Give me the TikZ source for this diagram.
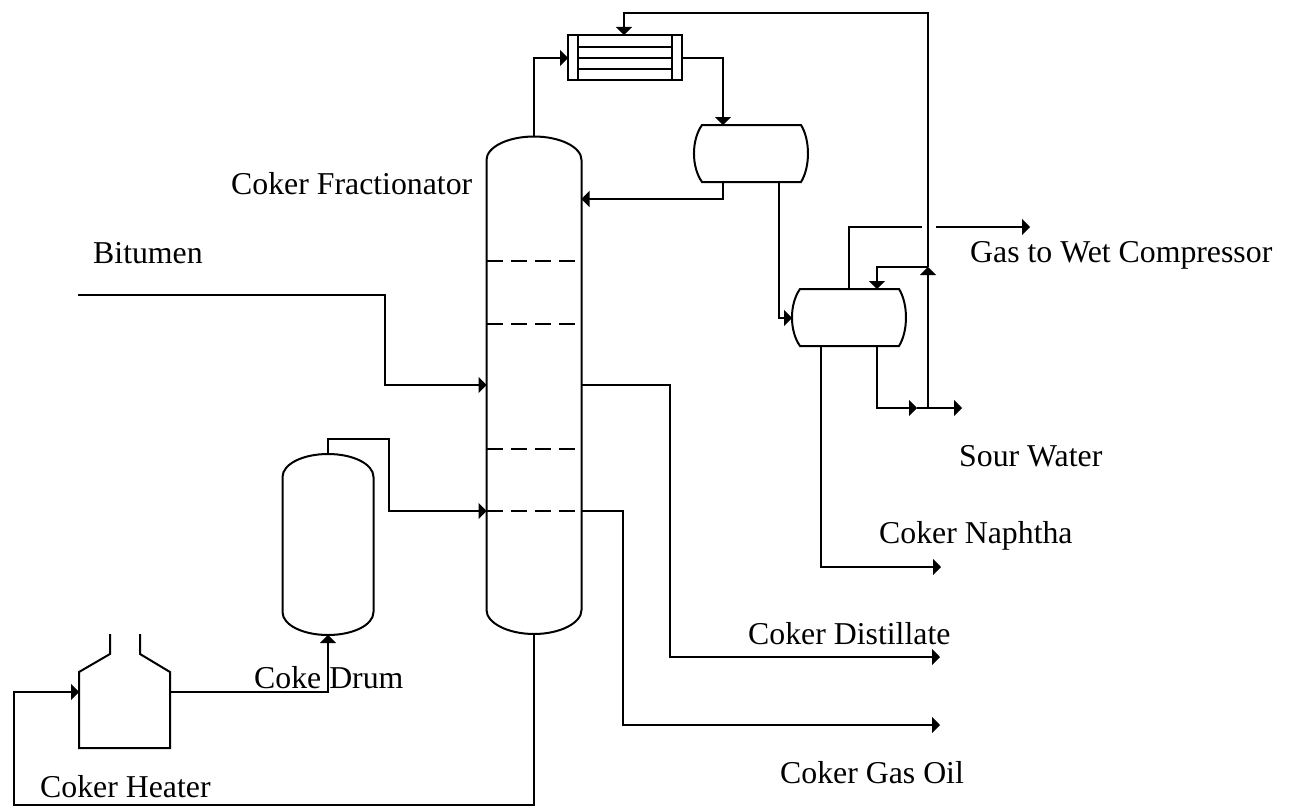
\documentclass[tikz,border=0pt]{standalone}
\usepackage{fontspec}
\setmainfont{Liberation Serif}
\usetikzlibrary{arrows.meta}
\tikzset{
  every picture/.style={x=1pt,y=-1pt},
  eq/.style={line width=2pt,line join=miter,draw=black},
  pipe/.style={line width=2pt,draw=black},
  flow/.style={pipe,-{Triangle[length=8pt,width=16pt]}},
  tray/.style={line width=2pt,dash pattern=on 16pt off 8pt},
  lbl/.style={anchor=base west,inner sep=0pt,font=\fontsize{31.8}{38}\selectfont},
  anchorbox/.style={inner sep=0pt,outer sep=0pt,draw=none}
}
\begin{document}
\begin{tikzpicture}
\useasboundingbox (0,0) rectangle (1293,808);
% equipment anchors (invisible boxes, outlines drawn below)
\node[anchorbox,minimum width=95pt,minimum height=498pt] (col) at (534,385) {};
\node[anchorbox,minimum width=114pt,minimum height=45pt] (cond) at (625,57.5) {};
\node[anchorbox,minimum width=114pt,minimum height=57pt] (drumA) at (751,153.5) {};
\node[anchorbox,minimum width=114pt,minimum height=57pt] (drumB) at (849,317.5) {};
\node[anchorbox,minimum width=91pt,minimum height=181pt] (coke) at (328,544.5) {};
\node[anchorbox,minimum width=91pt,minimum height=114pt] (heat) at (124.5,691) {};
% column
\draw[eq] (486.5,160) .. controls (486.5,147) and (508,136.5) .. (534,136.5)
  .. controls (560,136.5) and (581.5,147) .. (581.5,160) -- (581.5,610)
  .. controls (581.5,623) and (560,634) .. (534,634)
  .. controls (508,634) and (486.5,623) .. (486.5,610) -- cycle;
\foreach \yy in {261,324,449,511} \draw[tray] (487,\yy) -- (575,\yy);
% condenser
\draw[eq] (568,35) rectangle (682,80);
\draw[eq] (578,35) -- (578,80) (672,35) -- (672,80);
\draw[eq] (578,47) -- (672,47) (578,58) -- (672,58) (578,69) -- (672,69);
% drums
\draw[eq] (702,125) -- (801,125) .. controls (810.3,140) and (810.3,167) .. (801,182)
  -- (702,182) .. controls (691.3,167) and (691.3,140) .. (702,125) -- cycle;
\draw[eq] (800,289) -- (899,289) .. controls (908.3,304) and (908.3,331) .. (899,346)
  -- (800,346) .. controls (789.3,331) and (789.3,304) .. (800,289) -- cycle;
% coke drum
\draw[eq] (282.5,477) .. controls (282.5,464) and (303,454) .. (328,454)
  .. controls (353,454) and (373.5,464) .. (373.5,477) -- (373.5,612)
  .. controls (373.5,625) and (353,635) .. (328,635)
  .. controls (303,635) and (282.5,625) .. (282.5,612) -- cycle;
% heater
\draw[eq] (110,634) -- (110,654) -- (79,672) -- (79,748) -- (170,748) -- (170,672) -- (140,654) -- (140,634);
% ports
\coordinate (bitIn) at (78,295);
\coordinate (colBit) at (col.west |- 0,385);
\coordinate (colCoke) at (col.west |- 0,511);
\coordinate (colDrumA) at (col.east |- 0,199);
\coordinate (colDist) at (col.east |- 0,385);
\coordinate (colGO) at (col.east |- 0,511);
\coordinate (heatIn) at (79,692);
\coordinate (heatOut) at (170,692);
\coordinate (condIn) at (568,58);
\coordinate (condOut) at (682,58);
\coordinate (condTop) at (624,35);
\coordinate (drumAin) at (723,125);
\coordinate (drumAout) at (723,182);
\coordinate (drumAliq) at (779,182);
\coordinate (drumBin) at (792,318);
\coordinate (drumBgas) at (849,289);
\coordinate (drumBrefl) at (877,289);
\coordinate (drumBwat) at (877,346);
\coordinate (drumBnap) at (821,346);
\coordinate (teeA) at (917,408);
\coordinate (teeB) at (928,408);
\coordinate (teeC) at (928,267);
\coordinate (gapL) at (922,227);
\coordinate (gapR) at (936,227);
\coordinate (gasOut) at (1030,227);
\coordinate (watOut) at (962,408);
\coordinate (napOut) at (941,567);
\coordinate (distOut) at (940,657);
\coordinate (goOut) at (940,725);
% connectors
\draw[flow] (bitIn) -| (385,385) -- (colBit);
\draw[flow] (col.north) |- (condIn);
\draw[flow] (condOut) -| (drumAin);
\draw[flow] (drumAout) |- (colDrumA);
\draw[flow] (drumAliq) |- (drumBin);
\draw[pipe] (drumBgas) |- (gapL);
\draw[flow] (gapR) -- (gasOut);
\draw[flow] (drumBwat) |- (teeA);
\draw[flow] (teeA) -- (watOut);
\draw[flow] (teeB) -- (teeC);
\draw[flow] (teeC) -| (drumBrefl);
\draw[flow] (teeC) -- (928,13) -| (condTop);
\draw[flow] (drumBnap) |- (napOut);
\draw[flow] (colDist) -| (670,657) -- (distOut);
\draw[flow] (colGO) -| (623,725) -- (goOut);
\draw[flow] (coke.north) |- (389,439) -- (389,511) -- (colCoke);
\draw[flow] (heatOut) -| (coke.south);
\draw[flow] (col.south) |- (14,805) |- (heatIn);
% labels
\node[lbl] (tBit) at (93,263) {Bitumen};
\node[lbl] (tFrac) at (231,194) {Coker Fractionator};
\node[lbl] (tGas) at (970,262) {Gas to Wet Compressor};
\node[lbl] (tSour) at (959,466) {Sour Water};
\node[lbl] (tNap) at (879,543) {Coker Naphtha};
\node[lbl] (tDist) at (748,644) {Coker Distillate};
\node[lbl] (tGO) at (780,783) {Coker Gas Oil};
\node[lbl] (tCoke) at (254,688) {Coke Drum};
\node[lbl] (tHeat) at (40,797) {Coker Heater};
\end{tikzpicture}
\end{document}
